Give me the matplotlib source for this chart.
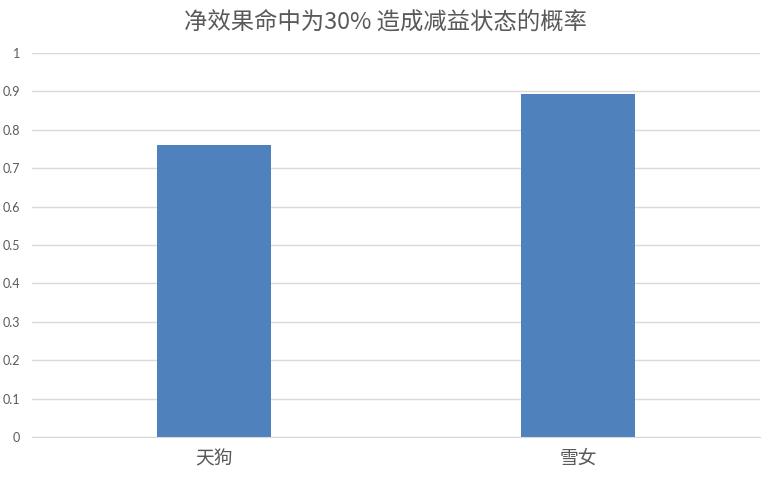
import matplotlib
matplotlib.use("Agg")
import matplotlib.pyplot as plt
import numpy as np

plt.rcParams['font.family'] = ['Noto Sans CJK SC', 'DejaVu Sans']

categories = ["天狗", "雪女"]
values = [0.76, 0.893]
yticks = [0, 0.1, 0.2, 0.3, 0.4, 0.5, 0.6, 0.7, 0.8, 0.9, 1]
ytick_labels = ["0", "0.1", "0.2", "0.3", "0.4", "0.5", "0.6", "0.7", "0.8", "0.9", "1"]
title = "净效果命中为30% 造成减益状态的概率"

fig = plt.figure(figsize=(7.72, 4.8), dpi=100)
ax = fig.add_axes([32/772, 1-437/480, 728/772, 384/480])

x = np.arange(len(categories))
ax.bar(x, values, width=0.313, color="#4F81BD", zorder=3)
ax.set_xlim(-0.5, 1.5)
ax.set_ylim(0, 1)
ax.set_yticks(yticks)
ax.set_yticklabels(ytick_labels, fontsize=9, color="#595959", family=['Lato', 'DejaVu Sans'])
ax.set_xticks(x)
ax.set_xticklabels(categories, fontsize=13.5, color="#595959")
ax.tick_params(axis='both', length=0)
ax.tick_params(axis='y', pad=8.5)
ax.tick_params(axis='x', pad=8)
ax.grid(axis='y', color="#D9D9D9", linewidth=1, zorder=0)
for s in ["top", "right", "left"]:
    ax.spines[s].set_visible(False)
ax.spines["bottom"].set_color("#D9D9D9")
ax.spines["bottom"].set_zorder(4)

fig.text(0.5, 1-22/480, title, ha="center", va="center", fontsize=16.8, color="#595959")

fig.savefig("out.png", dpi=100)
